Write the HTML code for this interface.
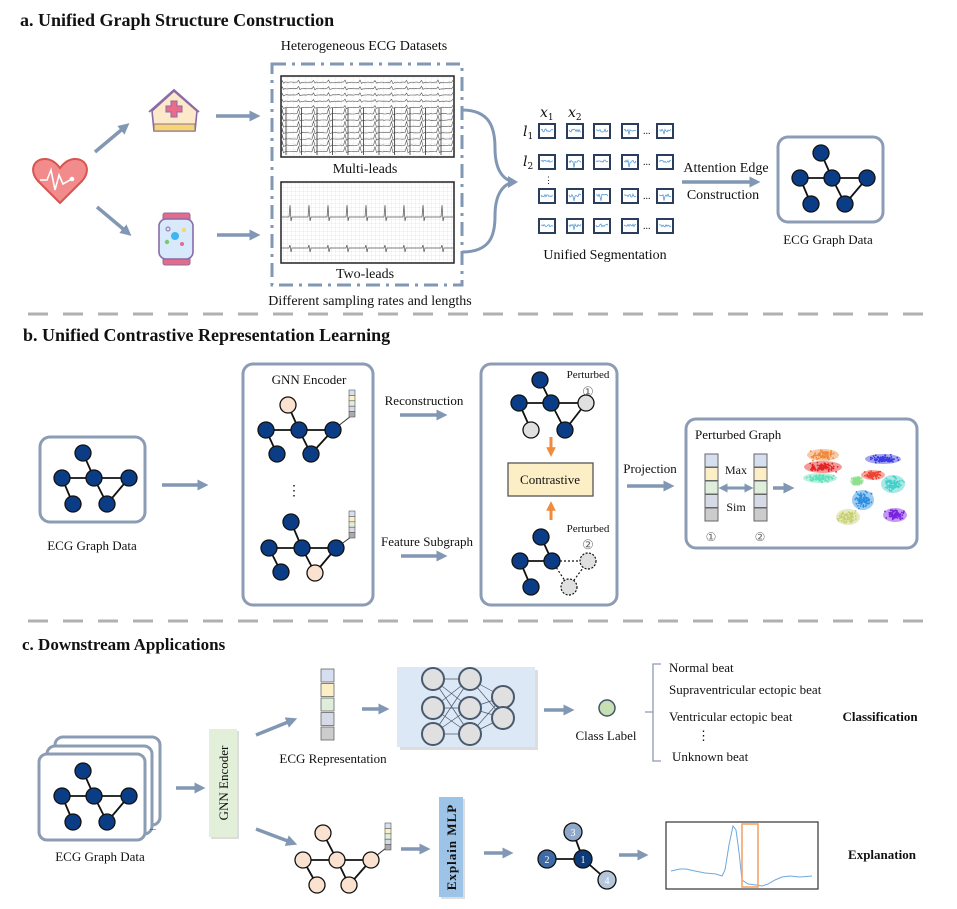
<!DOCTYPE html>
<html><head><meta charset="utf-8"><style>
html,body{margin:0;padding:0;background:#fff}
svg{display:block}
text{font-family:"Liberation Serif",serif;fill:#111}
.t{font-weight:bold;font-size:18px}
.l{font-size:14px}
.s{font-size:13px}
</style></head><body>
<svg width="957" height="909" viewBox="0 0 957 909" xmlns="http://www.w3.org/2000/svg">
<defs>
<marker id="ah" viewBox="0 0 10 10" refX="6" refY="5" markerWidth="3.2" markerHeight="3.2" orient="auto"><path d="M0,0L10,5L0,10z" fill="#8197b4"/></marker>
<marker id="ao" viewBox="0 0 10 10" refX="6" refY="5" markerWidth="3.2" markerHeight="3.2" orient="auto"><path d="M0,0L10,5L0,10z" fill="#f08a3c"/></marker>
<marker id="as" viewBox="0 0 10 10" refX="5" refY="5" markerWidth="3" markerHeight="3" orient="auto-start-reverse"><path d="M0,0L10,5L0,10z" fill="#8197b4"/></marker>
<g id="G">
<g stroke="#111" stroke-width="1.8"><line x1="-11" y1="-25" x2="0" y2="0"/><line x1="-32" y1="0" x2="35" y2="0"/><line x1="-32" y1="0" x2="-21" y2="26"/><line x1="0" y1="0" x2="13" y2="26"/><line x1="13" y1="26" x2="35" y2="0"/></g>
<g fill="#0b3d86" stroke="#111" stroke-width="1.3"><circle cx="-11" cy="-25" r="8"/><circle cx="-32" cy="0" r="8"/><circle cx="0" cy="0" r="8"/><circle cx="35" cy="0" r="8"/><circle cx="-21" cy="26" r="8"/><circle cx="13" cy="26" r="8"/></g>
</g>
<g id="bar5"><rect x="0" y="0" width="6" height="5.4" fill="#d5dff0" stroke="#555" stroke-width=".6"/><rect x="0" y="5.4" width="6" height="5.4" fill="#fdefc5" stroke="#555" stroke-width=".6"/><rect x="0" y="10.8" width="6" height="5.4" fill="#dfeeda" stroke="#555" stroke-width=".6"/><rect x="0" y="16.2" width="6" height="5.4" fill="#d5dae6" stroke="#555" stroke-width=".6"/><rect x="0" y="21.6" width="6" height="5.4" fill="#aaa" stroke="#555" stroke-width=".6"/></g>
<g id="vec"><rect x="0" y="0" width="13" height="13" fill="#d5dff0" stroke="#666"/><rect x="0" y="13.5" width="13" height="13" fill="#fdefc5" stroke="#666"/><rect x="0" y="27" width="13" height="13" fill="#dfeeda" stroke="#666"/><rect x="0" y="40.5" width="13" height="13" fill="#d5dae6" stroke="#666"/><rect x="0" y="54" width="13" height="13" fill="#cccccc" stroke="#666"/></g>
<pattern id="pg" width="4" height="4" patternUnits="userSpaceOnUse"><path d="M4,0V4M0,4H4" stroke="#f3c7cf" stroke-width=".5" fill="none"/></pattern>
<pattern id="gg" width="6" height="6" patternUnits="userSpaceOnUse"><path d="M6,0V6M0,6H6" stroke="#ddd" stroke-width=".5" fill="none"/></pattern>
</defs>

<!-- Section a -->
<text class="t" x="20" y="26">a. Unified Graph Structure Construction</text>
<path d="M60,203 L38,181 C29,171 33,159 45,159 C52,159 57,164 60,168 C63,164 68,159 75,159 C87,159 91,171 82,181 Z" fill="#f28b8b" stroke="#d9534f" stroke-width="2"/>
<path d="M40,180 L47,180 L51,170 L55,190 L59,175 L63,184 L70,180" fill="none" stroke="#fff" stroke-width="1.6"/><circle cx="72" cy="179" r="2.3" fill="#fff"/>
<line x1="95" y1="152" x2="126" y2="126" stroke="#8197b4" stroke-width="3.5" marker-end="url(#ah)"/>
<line x1="97" y1="207" x2="128" y2="233" stroke="#8197b4" stroke-width="3.5" marker-end="url(#ah)"/>
<path d="M152,111 L174,91 L197,111 L195,131 L154,131 Z" fill="#fbe9c9" stroke="#8a6ba6" stroke-width="1.6"/>
<path d="M149,112 L174,90 L199,112" fill="none" stroke="#8a6ba6" stroke-width="1.8"/>
<rect x="154" y="124" width="41" height="7" fill="#f5d770" stroke="#8a6ba6" stroke-width="1"/>
<path d="M171,101h6v5h5v6h-5v5h-6v-5h-5v-6h5z" fill="#ea6b8a" stroke="#8a6ba6" stroke-width="1"/>
<rect x="163" y="213" width="27" height="8" rx="2" fill="#e46c8b" stroke="#8a6ba6"/>
<rect x="163" y="257" width="27" height="8" rx="2" fill="#e46c8b" stroke="#8a6ba6"/>
<rect x="159" y="219" width="34" height="40" rx="7" fill="#d7e9fb" stroke="#8a6ba6" stroke-width="1.6"/>
<circle cx="175" cy="236" r="4" fill="#3fb6f0"/><circle cx="168" cy="229" r="2" fill="none" stroke="#8a6ba6"/><circle cx="184" cy="230" r="2.2" fill="#f5d770"/><circle cx="167" cy="242" r="2.2" fill="#7bc96f"/><circle cx="182" cy="244" r="2" fill="#e46c8b"/>
<line x1="216" y1="116" x2="256" y2="116" stroke="#8197b4" stroke-width="3.5" marker-end="url(#ah)"/>
<line x1="217" y1="235" x2="256" y2="235" stroke="#8197b4" stroke-width="3.5" marker-end="url(#ah)"/>
<text class="l" x="364" y="50" text-anchor="middle">Heterogeneous ECG Datasets</text>
<rect x="272" y="64" width="190" height="221" fill="none" stroke="#8197b4" stroke-width="3" stroke-dasharray="14,6,3,6"/>
<rect x="281" y="76" width="173" height="81" fill="url(#gg)" stroke="#222" stroke-width="1.5"/>
<g id="multi" stroke="#555" stroke-width=".6" fill="none"></g>
<text class="l" x="365" y="173" text-anchor="middle">Multi-leads</text>
<rect x="281" y="182" width="173" height="81" fill="url(#pg)" stroke="#222" stroke-width="1.5"/>
<g id="two" stroke="#555" stroke-width=".7" fill="none"></g>
<text class="l" x="365" y="278" text-anchor="middle">Two-leads</text>
<text class="l" x="370" y="305" text-anchor="middle">Different sampling rates and lengths</text>
<path d="M462,110 C490,110 495,128 495,148 C495,170 503,180 514,182 C503,184 495,194 495,216 C495,236 490,252 462,252" fill="none" stroke="#8197b4" stroke-width="3"/>
<path d="M508,176 L518,182 L508,188 Z" fill="#8197b4"/>
<text x="540" y="117" style="font-style:italic;font-size:14px;font-family:'DejaVu Serif',serif">x<tspan font-size="9" dy="3" font-style="normal">1</tspan></text>
<text x="568" y="117" style="font-style:italic;font-size:14px;font-family:'DejaVu Serif',serif">x<tspan font-size="9" dy="3" font-style="normal">2</tspan></text>
<text x="523" y="136" style="font-style:italic;font-size:14px;font-family:'DejaVu Serif',serif">l<tspan font-size="9" dy="3" font-style="normal">1</tspan></text>
<text x="523" y="166" style="font-style:italic;font-size:14px;font-family:'DejaVu Serif',serif">l<tspan font-size="9" dy="3" font-style="normal">2</tspan></text>
<text x="544" y="183" style="font-size:9px">⋮</text>
<g id="segs"></g>
<text class="l" x="605" y="259" text-anchor="middle">Unified Segmentation</text>
<text class="l" x="726" y="172" text-anchor="middle">Attention Edge</text>
<line x1="682" y1="182" x2="756" y2="182" stroke="#8197b4" stroke-width="3.5" marker-end="url(#ah)"/>
<text class="l" x="723" y="199" text-anchor="middle">Construction</text>
<rect x="778" y="137" width="105" height="85" rx="10" fill="#fff" stroke="#8c9cb5" stroke-width="3"/>
<use href="#G" transform="translate(832,178)"/>
<text class="s" x="828" y="244" text-anchor="middle">ECG Graph Data</text>

<line x1="28" y1="314" x2="935" y2="314" stroke="#b0b0b0" stroke-width="3" stroke-dasharray="20,15"/>

<!-- Section b -->
<text class="t" x="23" y="341">b. Unified Contrastive Representation Learning</text>
<rect x="40" y="437" width="105" height="85" rx="10" fill="#fff" stroke="#8c9cb5" stroke-width="3"/>
<use href="#G" transform="translate(94,478)"/>
<text class="s" x="92" y="550" text-anchor="middle">ECG Graph Data</text>
<line x1="162" y1="485" x2="204" y2="485" stroke="#8197b4" stroke-width="3.5" marker-end="url(#ah)"/>

<rect x="243" y="364" width="130" height="241" rx="10" fill="#fff" stroke="#8c9cb5" stroke-width="3"/>
<text class="s" x="309" y="384" text-anchor="middle">GNN Encoder</text>
<g stroke="#111" stroke-width="1.8"><line x1="288" y1="405" x2="299" y2="430"/><line x1="266" y1="430" x2="333" y2="430"/><line x1="266" y1="430" x2="277" y2="454"/><line x1="299" y1="430" x2="311" y2="454"/><line x1="311" y1="454" x2="333" y2="430"/></g>
<line x1="333" y1="430" x2="351" y2="416" stroke="#333" stroke-width="1"/>
<g fill="#0b3d86" stroke="#111" stroke-width="1.3"><circle cx="266" cy="430" r="8"/><circle cx="299" cy="430" r="8"/><circle cx="333" cy="430" r="8"/><circle cx="277" cy="454" r="8"/><circle cx="311" cy="454" r="8"/></g>
<circle cx="288" cy="405" r="8" fill="#fbe1d0" stroke="#111" stroke-width="1.3"/>
<use href="#bar5" transform="translate(349,390)"/>
<text x="287" y="495" style="font-size:14px">⋮</text>
<g stroke="#111" stroke-width="1.8"><line x1="291" y1="522" x2="302" y2="548"/><line x1="269" y1="548" x2="336" y2="548"/><line x1="269" y1="548" x2="281" y2="572"/><line x1="302" y1="548" x2="315" y2="573"/><line x1="315" y1="573" x2="336" y2="548"/></g>
<line x1="336" y1="548" x2="351" y2="537" stroke="#333" stroke-width="1"/>
<g fill="#0b3d86" stroke="#111" stroke-width="1.3"><circle cx="291" cy="522" r="8"/><circle cx="269" cy="548" r="8"/><circle cx="302" cy="548" r="8"/><circle cx="336" cy="548" r="8"/><circle cx="281" cy="572" r="8"/></g>
<circle cx="315" cy="573" r="8" fill="#fbe1d0" stroke="#111" stroke-width="1.3"/>
<use href="#bar5" transform="translate(349,511)"/>

<text class="s" x="424" y="405" text-anchor="middle">Reconstruction</text>
<line x1="400" y1="415" x2="443" y2="415" stroke="#8197b4" stroke-width="3.5" marker-end="url(#ah)"/>
<text class="s" x="427" y="546" text-anchor="middle">Feature Subgraph</text>
<line x1="401" y1="556" x2="443" y2="556" stroke="#8197b4" stroke-width="3.5" marker-end="url(#ah)"/>

<rect x="481" y="364" width="136" height="241" rx="10" fill="#fff" stroke="#8c9cb5" stroke-width="3"/>
<text x="588" y="378" text-anchor="middle" style="font-size:11px">Perturbed</text>
<text x="588" y="396" text-anchor="middle" style="font-size:13px;fill:#666">①</text>
<g stroke="#111" stroke-width="1.8"><line x1="540" y1="380" x2="551" y2="403"/><line x1="519" y1="403" x2="586" y2="403"/><line x1="519" y1="403" x2="531" y2="430"/><line x1="551" y1="403" x2="565" y2="430"/><line x1="565" y1="430" x2="586" y2="403"/></g>
<g fill="#0b3d86" stroke="#111" stroke-width="1.3"><circle cx="540" cy="380" r="8"/><circle cx="519" cy="403" r="8"/><circle cx="551" cy="403" r="8"/><circle cx="565" cy="430" r="8"/></g>
<g fill="#e0e0e0" stroke="#111" stroke-width="1.3"><circle cx="586" cy="403" r="8"/><circle cx="531" cy="430" r="8"/></g>
<line x1="551" y1="437" x2="551" y2="453" stroke="#f08a3c" stroke-width="3" marker-end="url(#ao)"/>
<rect x="508" y="463" width="85" height="33" fill="#fdefc5" stroke="#555" stroke-width="1.3"/>
<text class="s" x="550" y="484" text-anchor="middle">Contrastive</text>
<line x1="551" y1="520" x2="551" y2="505" stroke="#f08a3c" stroke-width="3" marker-end="url(#ao)"/>
<text x="588" y="532" text-anchor="middle" style="font-size:11px">Perturbed</text>
<text x="588" y="549" text-anchor="middle" style="font-size:13px;fill:#666">②</text>
<g stroke="#111" stroke-width="1.8"><line x1="541" y1="537" x2="552" y2="561"/><line x1="520" y1="561" x2="552" y2="561"/><line x1="520" y1="561" x2="531" y2="587"/></g>
<g stroke="#111" stroke-width="1.2" stroke-dasharray="2,2"><line x1="552" y1="561" x2="588" y2="561"/><line x1="552" y1="561" x2="569" y2="587"/><line x1="569" y1="587" x2="588" y2="561"/></g>
<g fill="#0b3d86" stroke="#111" stroke-width="1.3"><circle cx="541" cy="537" r="8"/><circle cx="520" cy="561" r="8"/><circle cx="552" cy="561" r="8"/><circle cx="531" cy="587" r="8"/></g>
<g fill="#e0e0e0" stroke="#111" stroke-width="1.2" stroke-dasharray="2,1.5"><circle cx="588" cy="561" r="8"/><circle cx="569" cy="587" r="8"/></g>

<text class="s" x="650" y="473" text-anchor="middle">Projection</text>
<line x1="627" y1="486" x2="670" y2="486" stroke="#8197b4" stroke-width="3.5" marker-end="url(#ah)"/>
<rect x="686" y="419" width="231" height="129" rx="10" fill="#fff" stroke="#8c9cb5" stroke-width="3"/>
<text class="s" x="695" y="439">Perturbed Graph</text>
<use href="#vec" transform="translate(705,454)"/>
<use href="#vec" transform="translate(754,454)"/>
<text x="736" y="474" text-anchor="middle" style="font-size:12px">Max</text>
<text x="736" y="511" text-anchor="middle" style="font-size:12px">Sim</text>
<line x1="723" y1="488" x2="749" y2="488" stroke="#8197b4" stroke-width="3" marker-start="url(#as)" marker-end="url(#as)"/>
<text x="711" y="541" text-anchor="middle" style="font-size:12px;fill:#666">①</text>
<text x="760" y="541" text-anchor="middle" style="font-size:12px;fill:#666">②</text>
<line x1="773" y1="488" x2="790" y2="488" stroke="#8197b4" stroke-width="3.5" marker-end="url(#ah)"/>
<g id="scatter">
<g opacity=".45">
<ellipse cx="823" cy="455" rx="16" ry="6" fill="#f08a3c"/><ellipse cx="823" cy="467" rx="19" ry="6" fill="#e62020"/><ellipse cx="820" cy="478" rx="17" ry="5" fill="#5ee0b8"/><ellipse cx="883" cy="459" rx="18" ry="5" fill="#3a3ae0"/><ellipse cx="873" cy="475" rx="12" ry="5" fill="#ee4433"/><ellipse cx="857" cy="481" rx="7" ry="5" fill="#8de08d"/><ellipse cx="893" cy="484" rx="12" ry="9" fill="#40d0c8"/><ellipse cx="863" cy="500" rx="11" ry="10" fill="#2a8ee0"/><ellipse cx="895" cy="515" rx="12" ry="7" fill="#7a22e0"/><ellipse cx="848" cy="517" rx="12" ry="8" fill="#c8d070"/>
</g></g>

<line x1="28" y1="621" x2="935" y2="621" stroke="#b0b0b0" stroke-width="3" stroke-dasharray="20,15"/>

<!-- Section c -->
<text class="t" x="22" y="650" style="font-size:17px">c. Downstream Applications</text>
<rect x="55" y="737" width="105" height="88" rx="8" fill="#fff" stroke="#8c9cb5" stroke-width="3"/>
<rect x="47" y="746" width="105" height="88" rx="8" fill="#fff" stroke="#8c9cb5" stroke-width="3"/>
<rect x="39" y="754" width="106" height="86" rx="8" fill="#fff" stroke="#8c9cb5" stroke-width="3"/>
<use href="#G" transform="translate(94,796)"/>
<text x="150" y="830" style="font-size:8px">...</text>
<text class="s" x="100" y="861" text-anchor="middle">ECG Graph Data</text>
<line x1="176" y1="788" x2="201" y2="788" stroke="#8197b4" stroke-width="3.5" marker-end="url(#ah)"/>
<rect x="211" y="731" width="28" height="108" fill="#bbb" opacity=".5"/>
<rect x="209" y="729" width="28" height="108" fill="#e2efd9"/>
<text class="s" transform="translate(228,783) rotate(-90)" text-anchor="middle">GNN Encoder</text>
<line x1="256" y1="735" x2="293" y2="720" stroke="#8197b4" stroke-width="3.5" marker-end="url(#ah)"/>
<line x1="256" y1="829" x2="293" y2="843" stroke="#8197b4" stroke-width="3.5" marker-end="url(#ah)"/>
<g stroke="#666" stroke-width=".8"><rect x="321" y="669" width="13" height="13" fill="#d5dff0"/><rect x="321" y="683.5" width="13" height="13" fill="#fdefc5"/><rect x="321" y="698" width="13" height="13" fill="#dfeeda"/><rect x="321" y="712.5" width="13" height="13" fill="#d5dae6"/><rect x="321" y="727" width="13" height="13" fill="#cccccc"/></g>
<text class="s" x="333" y="763" text-anchor="middle">ECG Representation</text>
<line x1="362" y1="709" x2="385" y2="709" stroke="#8197b4" stroke-width="3.5" marker-end="url(#ah)"/>
<rect x="400" y="670" width="138" height="80" fill="#bbb" opacity=".5"/>
<rect x="397" y="667" width="138" height="80" fill="#dce8f5"/>
<g id="nn"></g>
<line x1="544" y1="710" x2="570" y2="710" stroke="#8197b4" stroke-width="3.5" marker-end="url(#ah)"/>
<circle cx="607" cy="708" r="8" fill="#c6e0b4" stroke="#41546b" stroke-width="1.5"/>
<text class="s" x="606" y="740" text-anchor="middle">Class Label</text>
<path d="M661,664 H653 V761 H661 M645,712 H653" fill="none" stroke="#8c9cb5" stroke-width="1.3"/>
<text class="s" x="669" y="672">Normal beat</text>
<text class="s" x="669" y="694">Supraventricular ectopic beat</text>
<text class="s" x="669" y="721">Ventricular ectopic beat</text>
<text x="697" y="740" style="font-size:13px">⋮</text>
<text class="s" x="672" y="761">Unknown beat</text>
<text x="880" y="721" text-anchor="middle" style="font-size:13px;font-weight:bold">Classification</text>

<g stroke="#111" stroke-width="1.8"><line x1="323" y1="833" x2="337" y2="860"/><line x1="303" y1="860" x2="371" y2="860"/><line x1="303" y1="860" x2="317" y2="885"/><line x1="337" y1="860" x2="349" y2="885"/><line x1="349" y1="885" x2="371" y2="860"/></g>
<line x1="371" y1="860" x2="386" y2="848" stroke="#333" stroke-width="1"/>
<g fill="#fbe1d0" stroke="#111" stroke-width="1.3"><circle cx="323" cy="833" r="8"/><circle cx="303" cy="860" r="8"/><circle cx="337" cy="860" r="8"/><circle cx="371" cy="860" r="8"/><circle cx="317" cy="885" r="8"/><circle cx="349" cy="885" r="8"/></g>
<use href="#bar5" transform="translate(385,823)"/>
<line x1="401" y1="849" x2="426" y2="849" stroke="#8197b4" stroke-width="3.5" marker-end="url(#ah)"/>
<rect x="441" y="799" width="24" height="100" fill="#bbb" opacity=".5"/>
<rect x="439" y="797" width="24" height="100" fill="#9dc3e6"/>
<text transform="translate(456,847) rotate(-90)" text-anchor="middle" style="font-size:13px;font-weight:bold;letter-spacing:1px">Explain MLP</text>
<line x1="484" y1="853" x2="509" y2="853" stroke="#8197b4" stroke-width="3.5" marker-end="url(#ah)"/>
<g stroke="#111" stroke-width="1.8"><line x1="547" y1="859" x2="583" y2="859"/><line x1="573" y1="832" x2="583" y2="859"/><line x1="583" y1="859" x2="607" y2="880"/></g>
<g stroke="#111" stroke-width="1.3"><circle cx="573" cy="832" r="9" fill="#8fa8c8"/><circle cx="547" cy="859" r="9" fill="#3e6aa5"/><circle cx="583" cy="859" r="9" fill="#0d3b7a"/><circle cx="607" cy="880" r="9" fill="#b4c6dc"/></g>
<g style="font-size:10px" text-anchor="middle"><text x="573" y="836" style="fill:#fff">3</text><text x="547" y="863" style="fill:#fff">2</text><text x="583" y="863" style="fill:#fff">1</text><text x="607" y="884" style="fill:#fff">4</text></g>
<line x1="619" y1="855" x2="644" y2="855" stroke="#8197b4" stroke-width="3.5" marker-end="url(#ah)"/>
<rect x="666" y="822" width="152" height="67" fill="#fff" stroke="#333" stroke-width="1.2"/>
<path d="M671,871 L680,869 L686,869 L695,871 L705,873 L716,874 L722,876 L725,870 L729,845 L733,826 L736,830 L739,852 L742,880 L748,884 L756,885 L762,886 L768,884 L775,880 L782,877 L790,876 L800,877 L812,876" fill="none" stroke="#6fa8dc" stroke-width="1"/>
<rect x="742" y="824" width="16" height="63" fill="none" stroke="#f4a46c" stroke-width="1.6"/>
<text x="882" y="859" text-anchor="middle" style="font-size:13px;font-weight:bold">Explanation</text>
</svg>
<script>
(function(){
var NS="http://www.w3.org/2000/svg";
function el(p,t,a){var e=document.createElementNS(NS,t);for(var k in a)e.setAttribute(k,a[k]);p.appendChild(e);return e;}
var s=12345;function r(){s=(s*16807)%2147483647;return s/2147483647;}
function g(){return (r()+r()+r()-1.5)/1.5;}
var segs=document.getElementById('segs');
var cols=[539,567,594,622,657],rows=[124,155,189,219];
rows.forEach(function(y){cols.forEach(function(x){
el(segs,'rect',{x:x,y:y,width:16,height:14,fill:'#fff',stroke:'#2b3d5c','stroke-width':2});
var d='M'+(x+2)+','+(y+6);for(var i=1;i<=12;i++){d+=' L'+(x+2+i)+','+(y+5+r()*3+(i==5&&r()>.5?5:0));}
el(segs,'path',{d:d,fill:'none',stroke:'#5b9bd5','stroke-width':.8});
});
el(segs,'text',{x:643,y:y+10,style:'font-size:10px'}).textContent='...';
});
var m=document.getElementById('multi');
for(var L=0;L<12;L++){var y0=82+L*6.3;var d='M282,'+y0;
for(var x=282;x<454;x+=1.5){var ph=(x-282)%15.5;var v=0;if(ph<1.5)v=(L>4?-5:-2);else if(ph<3)v=1;d+=' L'+x.toFixed(1)+','+(y0+v+r()*0.6).toFixed(1);}
el(m,'path',{d:d});}
for(var x=286;x<454;x+=15.5){el(m,'line',{x1:x,y1:108,x2:x,y2:155,stroke:'#333','stroke-width':.8});}
var t=document.getElementById('two');
[217,248].forEach(function(y0,k){var d='M282,'+y0;for(var x=282;x<454;x+=1){var ph=(x-290)%19;var v=0;if(ph>=0&&ph<1)v=(k==0?-12:-3);else if(ph>=1&&ph<2)v=4;d+=' L'+x+','+(y0+v);}el(t,'path',{d:d});});
var nn=document.getElementById('nn');
var c1=[[433,679],[433,708],[433,734]],c2=[[470,679],[470,708],[470,734]],c3=[[503,697],[503,718]];
c1.forEach(function(a){c2.forEach(function(b){el(nn,'line',{x1:a[0],y1:a[1],x2:b[0],y2:b[1],stroke:'#4a5a6e','stroke-width':.7});});});
c2.forEach(function(a){c3.forEach(function(b){el(nn,'line',{x1:a[0],y1:a[1],x2:b[0],y2:b[1],stroke:'#4a5a6e','stroke-width':.7});});});
c1.concat(c2,c3).forEach(function(a){el(nn,'circle',{cx:a[0],cy:a[1],r:11,fill:'#e0e0e0',stroke:'#4a5a6e','stroke-width':2});});
var sc=document.getElementById('scatter');
var cl=[[823,455,16,6,'#f08a3c'],[823,467,19,6,'#e62020'],[820,478,17,5,'#5ee0b8'],[883,459,18,5,'#3a3ae0'],[873,475,12,5,'#ee4433'],[857,481,7,5,'#8de08d'],[893,484,12,9,'#40d0c8'],[863,500,11,10,'#2a8ee0'],[895,515,12,7,'#7a22e0'],[848,517,12,8,'#c8d070']];
cl.forEach(function(c){for(var i=0;i<90;i++){el(sc,'circle',{cx:(c[0]+g()*c[2]).toFixed(1),cy:(c[1]+g()*c[3]).toFixed(1),r:.9,fill:c[4]});}});
})();
</script>
</body></html>
